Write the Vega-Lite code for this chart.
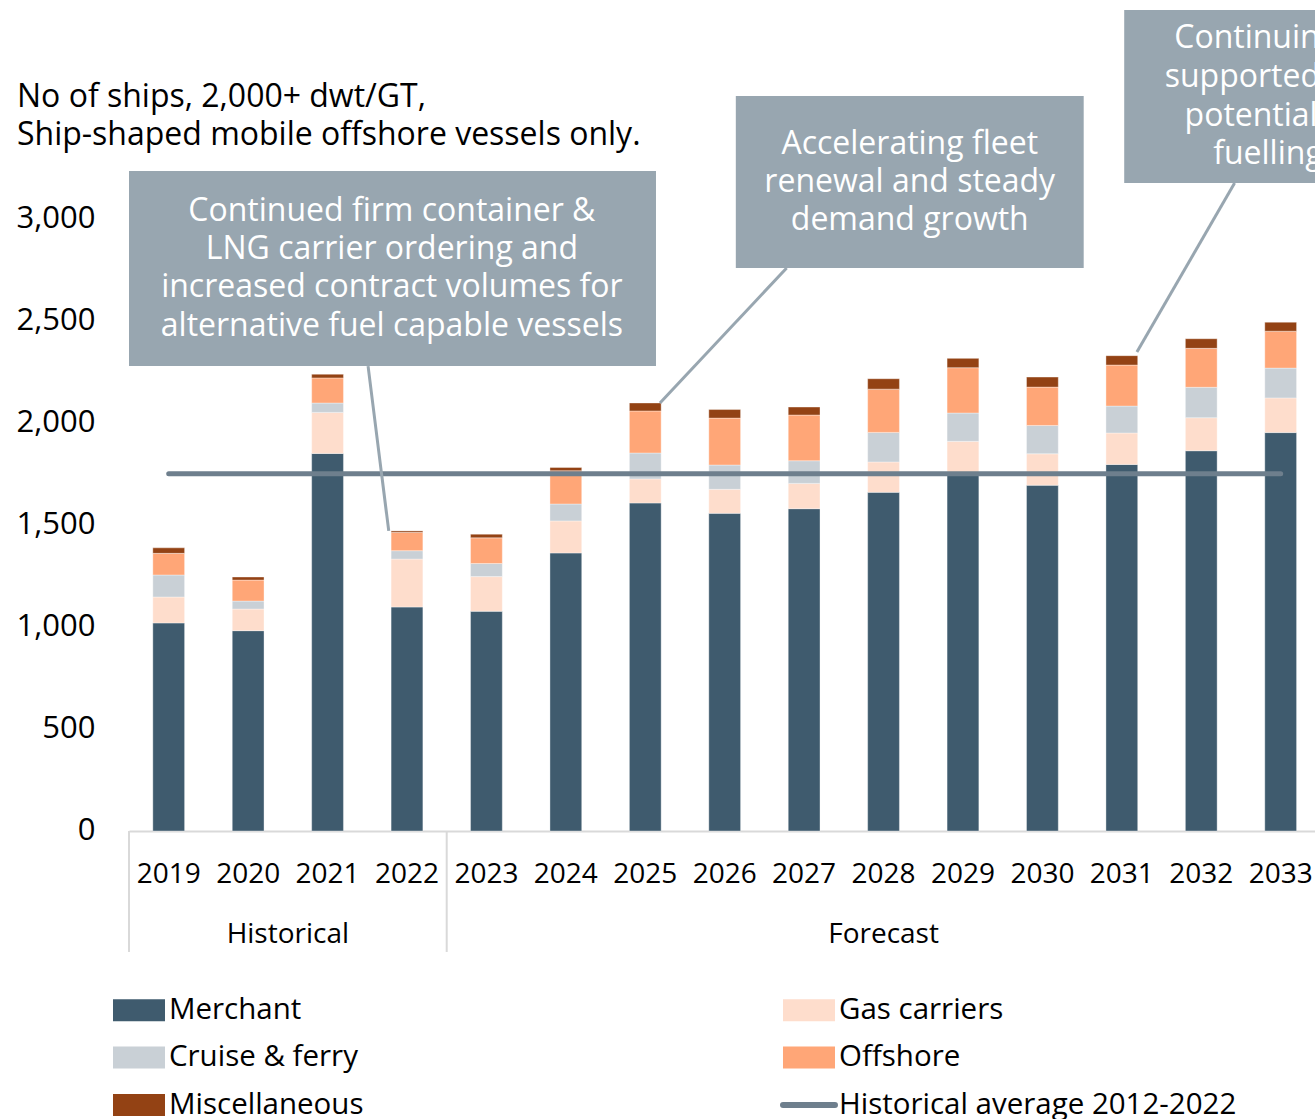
{
  "$schema": "https://vega.github.io/schema/vega-lite/v6.json",
  "autosize": {"type": "none"},
  "padding": {"left": 129, "top": 0, "right": 0, "bottom": 288},
  "width": 1191.4,
  "height": 831,
  "background": "white",
  "config": {
    "font": "Open Sans",
    "view": {"stroke": null},
    "axis": {"labelFont": "Open Sans", "labelColor": "#000000", "grid": false, "ticks": false}
  },
  "datasets": {
    "bars": [
      {"year": "2019", "type": "Merchant", "v": 1020, "k": 1},
      {"year": "2019", "type": "Gas carriers", "v": 127, "k": 2},
      {"year": "2019", "type": "Cruise & ferry", "v": 108, "k": 3},
      {"year": "2019", "type": "Offshore", "v": 106, "k": 4},
      {"year": "2019", "type": "Miscellaneous", "v": 27, "k": 5},
      {"year": "2020", "type": "Merchant", "v": 982, "k": 1},
      {"year": "2020", "type": "Gas carriers", "v": 106, "k": 2},
      {"year": "2020", "type": "Cruise & ferry", "v": 39, "k": 3},
      {"year": "2020", "type": "Offshore", "v": 103, "k": 4},
      {"year": "2020", "type": "Miscellaneous", "v": 15, "k": 5},
      {"year": "2021", "type": "Merchant", "v": 1851, "k": 1},
      {"year": "2021", "type": "Gas carriers", "v": 201, "k": 2},
      {"year": "2021", "type": "Cruise & ferry", "v": 46, "k": 3},
      {"year": "2021", "type": "Offshore", "v": 123, "k": 4},
      {"year": "2021", "type": "Miscellaneous", "v": 18, "k": 5},
      {"year": "2022", "type": "Merchant", "v": 1098, "k": 1},
      {"year": "2022", "type": "Gas carriers", "v": 235, "k": 2},
      {"year": "2022", "type": "Cruise & ferry", "v": 41, "k": 3},
      {"year": "2022", "type": "Offshore", "v": 90, "k": 4},
      {"year": "2022", "type": "Miscellaneous", "v": 7, "k": 5},
      {"year": "2023", "type": "Merchant", "v": 1077, "k": 1},
      {"year": "2023", "type": "Gas carriers", "v": 170, "k": 2},
      {"year": "2023", "type": "Cruise & ferry", "v": 64, "k": 3},
      {"year": "2023", "type": "Offshore", "v": 126, "k": 4},
      {"year": "2023", "type": "Miscellaneous", "v": 18, "k": 5},
      {"year": "2024", "type": "Merchant", "v": 1363, "k": 1},
      {"year": "2024", "type": "Gas carriers", "v": 157, "k": 2},
      {"year": "2024", "type": "Cruise & ferry", "v": 83, "k": 3},
      {"year": "2024", "type": "Offshore", "v": 163, "k": 4},
      {"year": "2024", "type": "Miscellaneous", "v": 16, "k": 5},
      {"year": "2025", "type": "Merchant", "v": 1608, "k": 1},
      {"year": "2025", "type": "Gas carriers", "v": 118, "k": 2},
      {"year": "2025", "type": "Cruise & ferry", "v": 127, "k": 3},
      {"year": "2025", "type": "Offshore", "v": 206, "k": 4},
      {"year": "2025", "type": "Miscellaneous", "v": 39, "k": 5},
      {"year": "2026", "type": "Merchant", "v": 1557, "k": 1},
      {"year": "2026", "type": "Gas carriers", "v": 118, "k": 2},
      {"year": "2026", "type": "Cruise & ferry", "v": 119, "k": 3},
      {"year": "2026", "type": "Offshore", "v": 230, "k": 4},
      {"year": "2026", "type": "Miscellaneous", "v": 42, "k": 5},
      {"year": "2027", "type": "Merchant", "v": 1580, "k": 1},
      {"year": "2027", "type": "Gas carriers", "v": 124, "k": 2},
      {"year": "2027", "type": "Cruise & ferry", "v": 111, "k": 3},
      {"year": "2027", "type": "Offshore", "v": 224, "k": 4},
      {"year": "2027", "type": "Miscellaneous", "v": 39, "k": 5},
      {"year": "2028", "type": "Merchant", "v": 1660, "k": 1},
      {"year": "2028", "type": "Gas carriers", "v": 149, "k": 2},
      {"year": "2028", "type": "Cruise & ferry", "v": 145, "k": 3},
      {"year": "2028", "type": "Offshore", "v": 212, "k": 4},
      {"year": "2028", "type": "Miscellaneous", "v": 51, "k": 5},
      {"year": "2029", "type": "Merchant", "v": 1755, "k": 1},
      {"year": "2029", "type": "Gas carriers", "v": 155, "k": 2},
      {"year": "2029", "type": "Cruise & ferry", "v": 139, "k": 3},
      {"year": "2029", "type": "Offshore", "v": 222, "k": 4},
      {"year": "2029", "type": "Miscellaneous", "v": 46, "k": 5},
      {"year": "2030", "type": "Merchant", "v": 1695, "k": 1},
      {"year": "2030", "type": "Gas carriers", "v": 154, "k": 2},
      {"year": "2030", "type": "Cruise & ferry", "v": 139, "k": 3},
      {"year": "2030", "type": "Offshore", "v": 188, "k": 4},
      {"year": "2030", "type": "Miscellaneous", "v": 49, "k": 5},
      {"year": "2031", "type": "Merchant", "v": 1797, "k": 1},
      {"year": "2031", "type": "Gas carriers", "v": 154, "k": 2},
      {"year": "2031", "type": "Cruise & ferry", "v": 132, "k": 3},
      {"year": "2031", "type": "Offshore", "v": 201, "k": 4},
      {"year": "2031", "type": "Miscellaneous", "v": 46, "k": 5},
      {"year": "2032", "type": "Merchant", "v": 1864, "k": 1},
      {"year": "2032", "type": "Gas carriers", "v": 162, "k": 2},
      {"year": "2032", "type": "Cruise & ferry", "v": 149, "k": 3},
      {"year": "2032", "type": "Offshore", "v": 191, "k": 4},
      {"year": "2032", "type": "Miscellaneous", "v": 47, "k": 5},
      {"year": "2033", "type": "Merchant", "v": 1953, "k": 1},
      {"year": "2033", "type": "Gas carriers", "v": 170, "k": 2},
      {"year": "2033", "type": "Cruise & ferry", "v": 146, "k": 3},
      {"year": "2033", "type": "Offshore", "v": 181, "k": 4},
      {"year": "2033", "type": "Miscellaneous", "v": 44, "k": 5}
    ],
    "avg": [{"name": "Historical average 2012-2022", "x": 0.5, "x2": 14.5, "y": 1751}],
    "boxes": [
      {"x": 0, "x2": 6.635, "y": 3235, "y2": 2279},
      {"x": 7.64, "x2": 12.02, "y": 3603, "y2": 2760},
      {"x": 12.53, "x2": 16.5, "y": 4025, "y2": 3176}
    ],
    "connectors": [
      {"x": 3.01, "y": 2279, "x2": 3.27, "y2": 1471},
      {"x": 8.28, "y": 2760, "x2": 6.685, "y2": 2098},
      {"x": 13.92, "y": 3176, "x2": 12.69, "y2": 2348}
    ],
    "boxtext": [
      {"t": "Continued firm container &", "x": 3.31, "y": 3039},
      {"t": "LNG carrier ordering and", "x": 3.31, "y": 2853},
      {"t": "increased contract volumes for", "x": 3.31, "y": 2667},
      {"t": "alternative fuel capable vessels", "x": 3.31, "y": 2476},
      {"t": "Accelerating fleet", "x": 9.83, "y": 3368},
      {"t": "renewal and steady", "x": 9.83, "y": 3181},
      {"t": "demand growth", "x": 9.83, "y": 2995}
    ],
    "box3text": [
      {"t": "Continuing growth", "x": 13.16, "y": 3887},
      {"t": "supported by", "x": 13.04, "y": 3696},
      {"t": "potential", "x": 13.29, "y": 3505},
      {"t": "fuelling", "x": 13.65, "y": 3319}
    ],
    "subtitle": [
      {"t": "No of ships, 2,000+ dwt/GT,", "x": -1.41, "y": 3598},
      {"t": "Ship-shaped mobile offshore vessels only.", "x": -1.41, "y": 3412}
    ],
    "seps": [{"x": 0, "y": 0, "y2": -593}, {"x": 4, "y": 0, "y2": -593}],
    "groups": [{"t": "Historical", "x": 2, "y": -510}, {"t": "Forecast", "x": 9.5, "y": -510}]
  },
  "layer": [
    {
      "data": {"name": "bars"},
      "mark": {"type": "bar", "stroke": "#ffffff", "strokeWidth": 0.6, "strokeOpacity": 0.6},
      "encoding": {
        "x": {
          "field": "year", "type": "ordinal",
          "scale": {"paddingInner": 0.6, "paddingOuter": 0.3},
          "axis": {"title": null, "labelAngle": 0, "labelFontSize": 28, "labelPadding": 30, "domainColor": "#d9d9d9", "domainWidth": 2}
        },
        "y": {
          "aggregate": "sum", "field": "v", "type": "quantitative", "stack": "zero", "title": null,
          "scale": {"domain": [0, 4073.5], "nice": false, "zero": true},
          "axis": {"title": null, "values": [0, 500, 1000, 1500, 2000, 2500, 3000], "labelExpr": "format(datum.value, ',')", "labelFontSize": 31, "labelPadding": 34, "domain": false}
        },
        "color": {
          "field": "type", "type": "nominal",
          "scale": {
            "domain": ["Merchant", "Gas carriers", "Cruise & ferry", "Offshore", "Miscellaneous"],
            "range": ["#3F5B6E", "#FEDDCC", "#C9D0D6", "#FFA677", "#934214"]
          },
          "legend": {
            "title": null, "orient": "none", "legendX": -16, "legendY": 984, "columns": 2, "direction": "horizontal",
            "labelFontSize": 29.5, "labelFont": "Open Sans", "labelColor": "#000000", "labelLimit": 600,
            "symbolSize": 2704, "labelOffset": 4, "columnPadding": 419, "rowPadding": 6.5,
            "symbolType": "M-1,-0.42H1V0.42H-1Z", "symbolStrokeWidth": 0, "symbolOpacity": 1
          }
        },
        "order": {"field": "k", "type": "quantitative", "sort": "ascending"}
      }
    },
    {
      "layer": [
        {
          "data": {"name": "seps"},
          "mark": {"type": "rule", "color": "#d9d9d9", "strokeWidth": 2},
          "encoding": {
            "x": {"field": "x", "type": "quantitative", "scale": {"domain": [0, 15], "nice": false, "zero": false}, "axis": null},
            "y": {"field": "y", "type": "quantitative", "title": null, "scale": {"domain": [0, 4073.5], "nice": false, "zero": true},
              "axis": {"title": null, "values": [0, 500, 1000, 1500, 2000, 2500, 3000], "labelExpr": "format(datum.value, ',')", "labelFontSize": 31, "labelPadding": 34, "domain": false}},
            "y2": {"field": "y2"}
          }
        },
        {
          "data": {"name": "groups"},
          "mark": {"type": "text", "fontSize": 28, "font": "Open Sans", "color": "#000000", "align": "center", "baseline": "middle"},
          "encoding": {
            "x": {"field": "x", "type": "quantitative", "scale": {"domain": [0, 15], "nice": false, "zero": false}, "axis": null},
            "y": {"field": "y", "type": "quantitative", "title": null, "scale": {"domain": [0, 4073.5], "nice": false, "zero": true},
              "axis": {"title": null, "values": [0, 500, 1000, 1500, 2000, 2500, 3000], "labelExpr": "format(datum.value, ',')", "labelFontSize": 31, "labelPadding": 34, "domain": false}},
            "text": {"field": "t"}
          }
        },
        {
          "data": {"name": "avg"},
          "mark": {"type": "rule", "strokeWidth": 5, "strokeCap": "round"},
          "encoding": {
            "x": {"field": "x", "type": "quantitative", "scale": {"domain": [0, 15], "nice": false, "zero": false}, "axis": null},
            "x2": {"field": "x2"},
            "y": {"field": "y", "type": "quantitative", "title": null, "scale": {"domain": [0, 4073.5], "nice": false, "zero": true},
              "axis": {"title": null, "values": [0, 500, 1000, 1500, 2000, 2500, 3000], "labelExpr": "format(datum.value, ',')", "labelFontSize": 31, "labelPadding": 34, "domain": false}},
            "stroke": {
              "field": "name", "type": "nominal",
              "scale": {"domain": ["Historical average 2012-2022"], "range": ["#6E7F8D"]},
              "legend": {
                "title": null, "orient": "none", "legendX": 651, "legendY": 1076,
                "labelFontSize": 29.5, "labelFont": "Open Sans", "labelColor": "#000000", "labelLimit": 600,
                "symbolType": "stroke", "symbolSize": 2704, "symbolStrokeWidth": 6, "labelOffset": 1, "symbolOpacity": 1,
                "encode": {"symbols": {"update": {"strokeCap": {"value": "round"}}}}
              }
            }
          }
        },
        {
          "data": {"name": "boxes"},
          "mark": {"type": "rect", "color": "#98A6B0"},
          "encoding": {
            "x": {"field": "x", "type": "quantitative", "scale": {"domain": [0, 15], "nice": false, "zero": false}, "axis": null},
            "x2": {"field": "x2"},
            "y": {"field": "y", "type": "quantitative", "title": null, "scale": {"domain": [0, 4073.5], "nice": false, "zero": true},
              "axis": {"title": null, "values": [0, 500, 1000, 1500, 2000, 2500, 3000], "labelExpr": "format(datum.value, ',')", "labelFontSize": 31, "labelPadding": 34, "domain": false}},
            "y2": {"field": "y2"}
          }
        },
        {
          "data": {"name": "connectors"},
          "mark": {"type": "rule", "color": "#98A6B0", "strokeWidth": 3},
          "encoding": {
            "x": {"field": "x", "type": "quantitative", "scale": {"domain": [0, 15], "nice": false, "zero": false}, "axis": null},
            "x2": {"field": "x2"},
            "y": {"field": "y", "type": "quantitative", "title": null, "scale": {"domain": [0, 4073.5], "nice": false, "zero": true},
              "axis": {"title": null, "values": [0, 500, 1000, 1500, 2000, 2500, 3000], "labelExpr": "format(datum.value, ',')", "labelFontSize": 31, "labelPadding": 34, "domain": false}},
            "y2": {"field": "y2"}
          }
        },
        {
          "data": {"name": "boxtext"},
          "mark": {"type": "text", "fontSize": 32, "font": "Open Sans", "color": "#ffffff", "align": "center", "baseline": "middle"},
          "encoding": {
            "x": {"field": "x", "type": "quantitative", "scale": {"domain": [0, 15], "nice": false, "zero": false}, "axis": null},
            "y": {"field": "y", "type": "quantitative", "title": null, "scale": {"domain": [0, 4073.5], "nice": false, "zero": true},
              "axis": {"title": null, "values": [0, 500, 1000, 1500, 2000, 2500, 3000], "labelExpr": "format(datum.value, ',')", "labelFontSize": 31, "labelPadding": 34, "domain": false}},
            "text": {"field": "t"}
          }
        },
        {
          "data": {"name": "box3text"},
          "mark": {"type": "text", "fontSize": 32, "font": "Open Sans", "color": "#ffffff", "align": "left", "baseline": "middle"},
          "encoding": {
            "x": {"field": "x", "type": "quantitative", "scale": {"domain": [0, 15], "nice": false, "zero": false}, "axis": null},
            "y": {"field": "y", "type": "quantitative", "title": null, "scale": {"domain": [0, 4073.5], "nice": false, "zero": true},
              "axis": {"title": null, "values": [0, 500, 1000, 1500, 2000, 2500, 3000], "labelExpr": "format(datum.value, ',')", "labelFontSize": 31, "labelPadding": 34, "domain": false}},
            "text": {"field": "t"}
          }
        },
        {
          "data": {"name": "subtitle"},
          "mark": {"type": "text", "fontSize": 32, "font": "Open Sans", "color": "#000000", "align": "left", "baseline": "middle"},
          "encoding": {
            "x": {"field": "x", "type": "quantitative", "scale": {"domain": [0, 15], "nice": false, "zero": false}, "axis": null},
            "y": {"field": "y", "type": "quantitative", "title": null, "scale": {"domain": [0, 4073.5], "nice": false, "zero": true},
              "axis": {"title": null, "values": [0, 500, 1000, 1500, 2000, 2500, 3000], "labelExpr": "format(datum.value, ',')", "labelFontSize": 31, "labelPadding": 34, "domain": false}},
            "text": {"field": "t"}
          }
        }
      ]
    }
  ],
  "resolve": {"scale": {"x": "independent"}}
}
